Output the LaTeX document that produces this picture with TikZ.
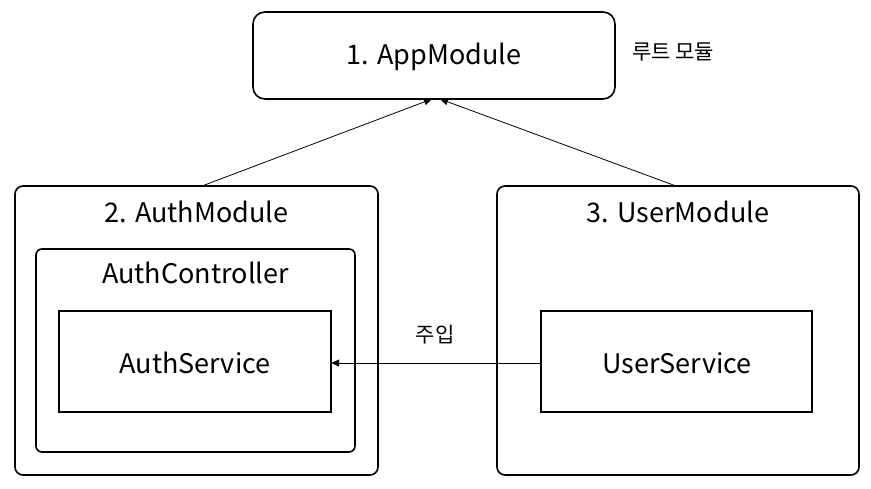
\documentclass[tikz,border=0pt]{standalone}
\usepackage{fontspec}
\setmainfont{Noto Sans CJK KR}
\usetikzlibrary{arrows.meta}
\tikzset{
  box/.style={draw, line width=1.6pt, rounded corners=#1},
  box/.default=8pt,
  lbl/.style={font=\fontsize{27}{31}\selectfont, inner sep=0pt},
  small/.style={font=\fontsize{21}{24}\selectfont, inner sep=0pt},
  conn/.style={draw, line width=0.8pt, -{Triangle[length=8pt,width=7pt]}}
}
\begin{document}
\begin{tikzpicture}[x=1pt,y=-1pt]
\useasboundingbox (0,0) rectangle (871,489);
% boxes
\draw[box=12pt] (253,12) rectangle (615,99);
\node (app) at (434,55.5) [minimum width=362pt, minimum height=87pt, inner sep=0pt] {};
\node[lbl] at (434,57) {1. AppModule};
\node[small] (root) at (673,52) {루트 모듈};

\draw[box=8pt] (15,186) rectangle (378,475);
\node (auth) at (196.5,330.5) [minimum width=363pt, minimum height=289pt, inner sep=0pt] {};
\node[lbl] at (196.5,212) {2. AuthModule};

\draw[box=6pt] (36,249) rectangle (355,452);
\node[lbl] (authctrl) at (195.5,273) {AuthController};

\draw[box=0pt] (59,311) rectangle (331,412);
\node (authsvc) at (195,361.5) [minimum width=272pt, minimum height=101pt, inner sep=0pt] {};
\node[lbl] at (195,363) {AuthService};

\draw[box=8pt] (497,186) rectangle (859,475);
\node (user) at (678,330.5) [minimum width=362pt, minimum height=289pt, inner sep=0pt] {};
\node[lbl] at (678,212) {3. UserModule};

\draw[box=0pt] (541,311) rectangle (812,412);
\node (usersvc) at (676.5,361.5) [minimum width=271pt, minimum height=101pt, inner sep=0pt] {};
\node[lbl] at (677,363) {UserService};

% connectors
\coordinate (tipA) at (432,99);
\coordinate (tipB) at (440,99);
\coordinate (srcA) at (202,186);
\coordinate (srcB) at (676,186);
\draw[conn] (srcA) -- (tipA);
\draw[conn] (srcB) -- (tipB);
\draw[conn] (usersvc.west |- 0,363) -- (authsvc.east |- 0,363);
\node[small] (inject) at (435,335) {주입};
\end{tikzpicture}
\end{document}
